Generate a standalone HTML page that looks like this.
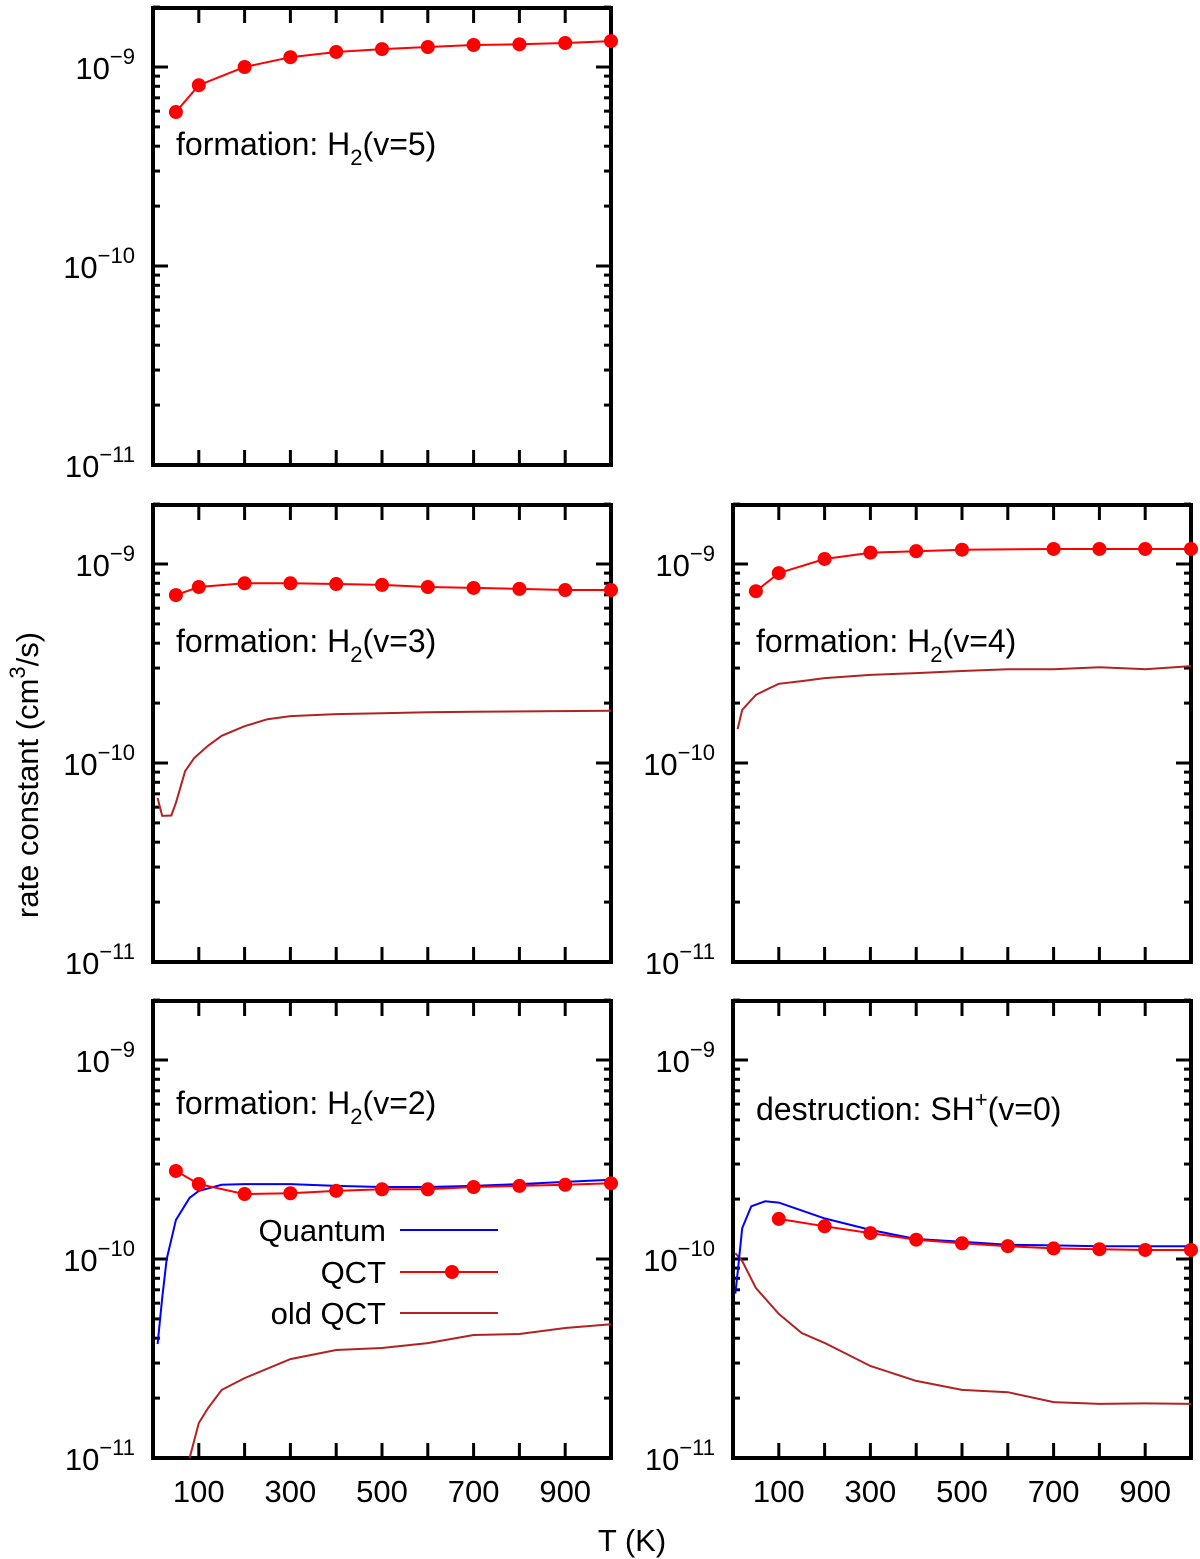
<!DOCTYPE html>
<html><head><meta charset="utf-8"><style>
body{margin:0;background:#fff}
svg{display:block;font-family:"Liberation Sans",sans-serif}
</style></head><body>
<svg id="chart" width="1200" height="1559" viewBox="0 0 1200 1559"></svg>
<script>
// ---- data ----
const qctT = [50,100,200,300,400,500,600,700,800,900,1000];
const v5Qct = [5.94e-10,8.1e-10,1.0e-9,1.12e-9,1.19e-9,1.23e-9,1.26e-9,1.29e-9,1.3e-9,1.32e-9,1.35e-9];
const v3Qct = [6.98e-10,7.66e-10,8.0e-10,8.0e-10,7.93e-10,7.85e-10,7.66e-10,7.58e-10,7.5e-10,7.4e-10,7.4e-10];
const v3OldT = [10,20,40,50,70,90,120,150,200,250,300,400,500,600,700,1000];
const v3Old = [6.67e-11,5.42e-11,5.45e-11,6.3e-11,9.1e-11,1.06e-10,1.22e-10,1.37e-10,1.53e-10,1.66e-10,1.72e-10,1.76e-10,1.78e-10,1.8e-10,1.81e-10,1.83e-10];
const v4QctT = [50,100,200,300,400,500,700,800,900,1000];
const v4Qct = [7.3e-10,9.0e-10,1.06e-9,1.14e-9,1.16e-9,1.18e-9,1.19e-9,1.19e-9,1.19e-9,1.19e-9];
const v4OldT = [10,20,50,80,100,150,200,300,400,500,600,700,800,900,1000];
const v4Old = [1.48e-10,1.85e-10,2.2e-10,2.38e-10,2.5e-10,2.58e-10,2.67e-10,2.77e-10,2.83e-10,2.9e-10,2.96e-10,2.96e-10,3.03e-10,2.96e-10,3.07e-10];
const v2QuT = [10,20,30,50,80,100,150,200,300,400,500,600,700,800,900,1000];
const v2Qu = [3.74e-11,6.37e-11,1.0e-10,1.57e-10,2.03e-10,2.2e-10,2.36e-10,2.38e-10,2.38e-10,2.33e-10,2.3e-10,2.3e-10,2.33e-10,2.38e-10,2.44e-10,2.5e-10];
const v2Qct = [2.77e-10,2.38e-10,2.12e-10,2.14e-10,2.2e-10,2.24e-10,2.24e-10,2.3e-10,2.33e-10,2.36e-10,2.4e-10];
const v2OldT = [70,80,100,120,150,200,300,400,500,600,700,800,900,1000];
const v2Old = [8.0e-12,1.0e-11,1.5e-11,1.78e-11,2.2e-11,2.52e-11,3.14e-11,3.49e-11,3.57e-11,3.78e-11,4.15e-11,4.2e-11,4.5e-11,4.7e-11];
const sQuT = [5,10,20,40,70,100,200,300,400,500,600,700,800,900,1000];
const sQu = [6.7e-11,8.5e-11,1.43e-10,1.84e-10,1.95e-10,1.92e-10,1.6e-10,1.4e-10,1.26e-10,1.22e-10,1.18e-10,1.17e-10,1.16e-10,1.16e-10,1.16e-10];
const sQctT = [100,200,300,400,500,600,700,800,900,1000];
const sQct = [1.59e-10,1.46e-10,1.35e-10,1.25e-10,1.2e-10,1.16e-10,1.13e-10,1.12e-10,1.11e-10,1.11e-10];
const sOldT = [5,20,50,100,150,200,300,400,500,600,700,800,900,1000];
const sOld = [1.07e-10,9.77e-11,7.15e-11,5.3e-11,4.25e-11,3.79e-11,2.9e-11,2.44e-11,2.2e-11,2.14e-11,1.91e-11,1.87e-11,1.88e-11,1.87e-11];
const xTickLabels = [100,300,500,700,900];
const yDecades = [-9,-10,-11];

const NS="http://www.w3.org/2000/svg";
const svg=document.getElementById('chart');
function el(tag,attrs,parent){const e=document.createElementNS(NS,tag);for(const k in attrs)e.setAttribute(k,attrs[k]);(parent||svg).appendChild(e);return e;}

function panel(name,x0,y0,showX){
  const W=458,H=457,dec=199;
  const g=el('g',{});
  
  
  const ax={g,x0,y0,W,H,
    sx:t=>x0+t/1000*W,
    sy:v=>y0+H-(Math.log10(v)+11)*dec};
  const cid='c'+name;
  const cp=el('clipPath',{id:cid},g);el('rect',{x:x0,y:y0,width:W,height:H},cp);
  ax.clip=cid;
  for(let t=100;t<1000;t+=100){
    const x=ax.sx(t);
    el('line',{x1:x,x2:x,y1:y0+H,y2:y0+H-15,stroke:'#000','stroke-width':3},g);
    el('line',{x1:x,x2:x,y1:y0,y2:y0+15,stroke:'#000','stroke-width':3},g);
  }
  for(let d=-11;d<=-9;d++){
    for(let m=1;m<10;m++){
      const v=m*Math.pow(10,d);const y=ax.sy(v);
      if(y<y0-1)break;
      const L=m===1?15:7;
      el('line',{x1:x0,x2:x0+L,y1:y,y2:y,stroke:'#000','stroke-width':3},g);
      el('line',{x1:x0+W,x2:x0+W-L,y1:y,y2:y,stroke:'#000','stroke-width':3},g);
    }
  }
  el('rect',{x:x0,y:y0,width:W,height:H,fill:'none',stroke:'#000','stroke-width':4},g);
  yDecades.forEach(d=>{
    const y=ax.sy(Math.pow(10,d));
    const t=el('text',{x:x0-18,y:y+12,'text-anchor':'end','font-size':31},g);
    
    
    t.innerHTML='10<tspan dy="-15" font-size="22">−'+(-d)+'</tspan>';
  });
  if(showX){
    xTickLabels.forEach(v=>{
      const t=el('text',{x:ax.sx(v),y:y0+H+44,'text-anchor':'middle','font-size':31},g);
      
      
      t.textContent=v;
    });
  }
  return ax;
}
function line(ax,T,V,color,name,w){
  const d=T.map((t,i)=>(i?'L':'M')+ax.sx(t).toFixed(1)+','+ax.sy(V[i]).toFixed(1)).join('');
  const p=el('path',{d,fill:'none',stroke:color,'stroke-width':w||2,'clip-path':'url(#'+ax.clip+')'},ax.g);
  
  
}
function dots(ax,T,V,name){
  line(ax,T,V,'#ff0000',name+'-line',2);
  T.forEach((t,i)=>{
    const c=el('circle',{cx:ax.sx(t),cy:ax.sy(V[i]),r:7,fill:'#ff0000'},ax.g);
    
    
  });
}
function label(ax,x,y,main,sub,tail,sup){
  const t=el('text',{x,y,'font-size':32},ax.g);
  
  
  if(sup) t.innerHTML=main+'<tspan dy="-13" font-size="22">'+sup+'</tspan><tspan dy="13">'+tail+'</tspan>';
  else t.innerHTML=main+'<tspan dy="10" font-size="22">'+sub+'</tspan><tspan dy="-10">'+tail+'</tspan>';
}
const OLD='#b22222', QU='#0000ff';

const a5=panel('panel-v5',153,8,false);
dots(a5,qctT,v5Qct,'qct');
label(a5,176,155,'formation: H','2','(v=5)');

const a3=panel('panel-v3',153,505,false);
line(a3,v3OldT,v3Old,OLD,'old-qct-line');
dots(a3,qctT,v3Qct,'qct');
label(a3,176,652,'formation: H','2','(v=3)');

const a4=panel('panel-v4',733,505,false);
line(a4,v4OldT,v4Old,OLD,'old-qct-line');
dots(a4,v4QctT,v4Qct,'qct');
label(a4,756,652,'formation: H','2','(v=4)');

const a2=panel('panel-v2',153,1001,true);
line(a2,v2OldT,v2Old,OLD,'old-qct-line');
line(a2,v2QuT,v2Qu,QU,'quantum-line');
dots(a2,qctT,v2Qct,'qct');
label(a2,176,1114,'formation: H','2','(v=2)');

const as=panel('panel-sh',733,1001,true);
line(as,sOldT,sOld,OLD,'old-qct-line');
line(as,sQuT,sQu,QU,'quantum-line');
dots(as,sQctT,sQct,'qct');
label(as,756,1120,'destruction: SH','','(v=0)','+');

const lg=el('g',{});


[['Quantum',1230,QU,false],['QCT',1272,'#ff0000',true],['old QCT',1313,OLD,false]].forEach(([n,y,c,m])=>{
  const t=el('text',{x:386,y:y+11,'text-anchor':'end','font-size':31},lg);
  
  
  t.textContent=n;
  el('line',{x1:400,x2:498,y1:y,y2:y,stroke:c,'stroke-width':2},lg);
  if(m) el('circle',{cx:452,cy:y,r:7,fill:c},lg);
});

const xt=el('text',{x:632,y:1551,'text-anchor':'middle','font-size':31});


xt.textContent='T (K)';
const yt=el('text',{x:0,y:0,'text-anchor':'middle','font-size':31,transform:'translate(38,775) rotate(-90)'});


yt.innerHTML='rate constant (cm<tspan dy="-13" font-size="22">3</tspan><tspan dy="13">/s)</tspan>';
</script>
</body></html>
